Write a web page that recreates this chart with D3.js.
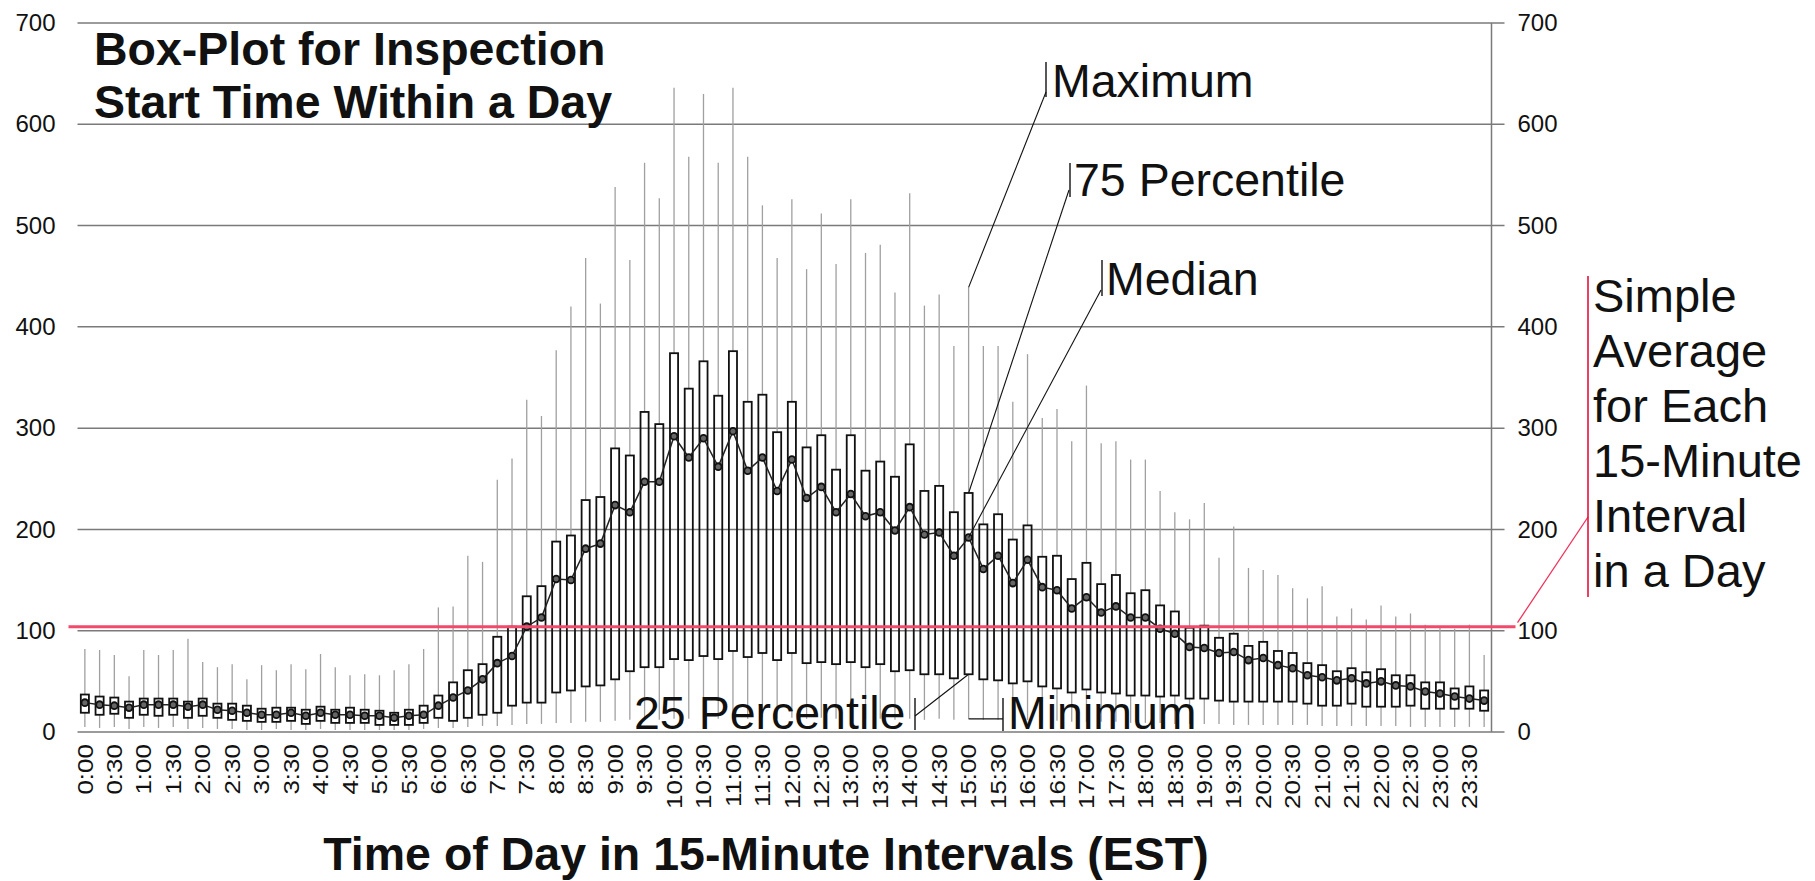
<!DOCTYPE html>
<html><head><meta charset="utf-8">
<script src="https://cdn.jsdelivr.net/npm/d3@7"></script>
<style>
html,body{margin:0;padding:0;background:#fff;}
svg{display:block;}
text{font-family:Arial,"Liberation Sans",sans-serif;fill:#111;}
</style></head><body>
<svg id="chart" width="1815" height="881"></svg>
<script>
const categories = ["0:00","0:15","0:30","0:45","1:00","1:15","1:30","1:45","2:00","2:15","2:30","2:45",
"3:00","3:15","3:30","3:45","4:00","4:15","4:30","4:45","5:00","5:15","5:30","5:45",
"6:00","6:15","6:30","6:45","7:00","7:15","7:30","7:45","8:00","8:15","8:30","8:45",
"9:00","9:15","9:30","9:45","10:00","10:15","10:30","10:45","11:00","11:15","11:30","11:45",
"12:00","12:15","12:30","12:45","13:00","13:15","13:30","13:45","14:00","14:15","14:30","14:45",
"15:00","15:15","15:30","15:45","16:00","16:15","16:30","16:45","17:00","17:15","17:30","17:45",
"18:00","18:15","18:30","18:45","19:00","19:15","19:30","19:45","20:00","20:15","20:30","20:45",
"21:00","21:15","21:30","21:45","22:00","22:15","22:30","22:45","23:00","23:15","23:30","23:45"];

const tickLabels = ["0:00","0:30","1:00","1:30","2:00","2:30","3:00","3:30","4:00","4:30","5:00","5:30",
"6:00","6:30","7:00","7:30","8:00","8:30","9:00","9:30","10:00","10:30","11:00","11:30",
"12:00","12:30","13:00","13:30","14:00","14:30","15:00","15:30","16:00","16:30","17:00","17:30",
"18:00","18:30","19:00","19:30","20:00","20:30","21:00","21:30","22:00","22:30","23:00","23:30"];

const minValues = [5,4,5,3,5,4,5,3,4,3,3,2,2,3,2,2,3,2,2,2,2,2,2,3,
4,4,5,6,6,7,8,8,9,9,10,10,11,12,12,12,13,13,14,13,14,13,14,13,
14,13,14,13,14,13,13,12,13,12,13,12,13,12,12,11,12,11,11,10,10,10,10,9,
9,9,8,8,8,8,7,7,7,7,7,7,6,6,6,6,6,6,5,5,5,5,5,5];
const q1Values = [19,17,18,14,17,16,17,14,16,14,12,11,10,10,11,8,11,9,9,9,7,7,7,9,
14,11,14,17,19,26,29,29,39,41,45,46,52,60,64,64,72,71,75,72,80,74,78,71,
78,68,69,67,69,64,67,60,61,57,57,53,57,52,51,48,50,45,43,39,42,39,38,36,
36,35,36,33,33,31,30,30,30,30,30,28,26,26,28,25,25,25,26,23,23,23,23,21];
const medianValues = [29,27,26,24,27,27,27,25,27,22,21,19,17,17,19,16,19,17,17,16,16,14,16,17,
26,34,41,52,68,75,104,113,151,150,181,186,224,217,247,247,292,271,290,262,297,258,271,238,
269,231,242,217,235,213,217,199,222,195,197,174,192,161,174,147,170,143,140,122,133,118,124,113,
113,102,97,84,83,78,79,71,73,66,63,56,54,51,53,48,50,46,45,40,38,35,33,31];
const q3Values = [37,35,34,30,33,33,33,30,33,28,28,26,23,24,24,22,25,22,24,22,21,19,22,26,
36,49,61,67,94,104,134,144,188,194,229,232,280,273,316,304,374,339,366,332,376,326,333,296,
326,281,293,259,293,258,267,252,284,238,243,217,236,205,215,190,204,173,174,151,167,146,155,137,
140,125,119,103,105,93,97,85,89,80,78,68,66,60,63,59,62,56,56,49,49,43,45,41];
const maxValues = [82,81,76,55,81,76,81,92,69,64,67,52,66,61,67,62,77,64,56,57,56,61,67,82,
123,124,174,168,249,270,328,312,377,420,468,423,538,466,562,527,636,568,630,562,636,568,520,468,
526,457,512,462,526,473,481,434,532,421,432,381,439,381,381,326,373,310,319,287,342,285,287,269,
269,238,217,210,226,172,203,162,160,155,142,132,144,114,122,111,125,114,117,106,104,102,106,76];

const averageValue = 104;
const yTicks = [0,100,200,300,400,500,600,700];
const titleLines = ["Box-Plot for Inspection","Start Time Within a Day"];
const xTitle = "Time of Day in 15-Minute Intervals (EST)";
const avgLabelLines = ["Simple","Average","for Each","15-Minute","Interval","in a Day"];
const annotatedCategory = "15:00";

const svg = d3.select("#chart");
const plotL = 77.5, plotR = 1491.5, plotT = 23, plotB = 732;
const FONT = "Arial,'Liberation Sans',sans-serif";

const x = d3.scaleBand().domain(categories).range([plotL, plotR]).padding(0);
const y = d3.scaleLinear().domain([0, 700]).range([plotB, plotT]);
const bw = x.bandwidth();
const boxW = bw * 0.55;
const cx = c => x(c) + bw / 2;

const data = categories.map((c, i) => ({c, min: minValues[i], q1: q1Values[i], med: medianValues[i], q3: q3Values[i], max: maxValues[i]}));

// gridlines
svg.append("g").selectAll("line").data(yTicks).join("line")
  .attr("x1", plotL).attr("x2", plotR + 13)
  .attr("y1", d => y(d)).attr("y2", d => y(d))
  .attr("stroke", "#7a7a7a").attr("stroke-width", 1.5);
// right axis line
svg.append("line").attr("x1", plotR).attr("x2", plotR).attr("y1", y(700)).attr("y2", y(0))
  .attr("stroke", "#7a7a7a").attr("stroke-width", 1.5);

// left axis labels
const leftAxis = svg.append("g").attr("transform", `translate(${plotL},0)`)
  .call(d3.axisLeft(y).tickValues(yTicks).tickSize(0).tickPadding(22));
leftAxis.select(".domain").remove();
leftAxis.selectAll("text").style("font-size", "24px").style("font-family", FONT).attr("fill", "#222");

const rightAxis = svg.append("g").attr("transform", `translate(${plotR},0)`)
  .call(d3.axisRight(y).tickValues(yTicks).tickSize(0).tickPadding(26));
rightAxis.select(".domain").remove();
rightAxis.selectAll("text").style("font-size", "24px").style("font-family", FONT).attr("fill", "#222");

// x axis labels
const xAxis = svg.append("g").attr("transform", `translate(0,${plotB})`)
  .call(d3.axisBottom(x).tickValues(tickLabels).tickSize(0));
xAxis.select(".domain").remove();
xAxis.selectAll("text")
  .style("font-size", "26px").style("font-family", FONT).attr("fill", "#222")
  .attr("text-anchor", "end").attr("x", -12).attr("y", 0).attr("dy", "0.36em")
  .attr("transform", "rotate(-90) scale(1,0.82)");

// whiskers
const wg = svg.append("g");
wg.selectAll("line.up").data(data).join("line").attr("class", "up")
  .attr("x1", d => cx(d.c)).attr("x2", d => cx(d.c))
  .attr("y1", d => y(d.max)).attr("y2", d => y(d.q3))
  .attr("stroke", "#a0a0a0").attr("stroke-width", 1.3);
wg.selectAll("line.dn").data(data).join("line").attr("class", "dn")
  .attr("x1", d => cx(d.c)).attr("x2", d => cx(d.c))
  .attr("y1", d => y(d.q1)).attr("y2", d => y(d.min))
  .attr("stroke", "#a0a0a0").attr("stroke-width", 1.3);

// boxes
svg.append("g").selectAll("rect").data(data).join("rect")
  .attr("x", d => cx(d.c) - boxW / 2).attr("width", boxW)
  .attr("y", d => y(d.q3)).attr("height", d => y(d.q1) - y(d.q3))
  .attr("fill", "none").attr("stroke", "#111").attr("stroke-width", 1.8);

// median line + markers
svg.append("path").datum(data)
  .attr("d", d3.line().x(d => cx(d.c)).y(d => y(d.med)))
  .attr("fill", "none").attr("stroke", "#222").attr("stroke-width", 1.5);
svg.append("g").selectAll("circle").data(data).join("circle")
  .attr("cx", d => cx(d.c)).attr("cy", d => y(d.med)).attr("r", 3.4)
  .attr("fill", "#666").attr("stroke", "#111").attr("stroke-width", 1.8);

// average line
const ya = y(averageValue);
svg.append("line").attr("x1", plotL - 9).attr("x2", plotR + 24).attr("y1", ya).attr("y2", ya)
  .attr("stroke", "#f24a6a").attr("stroke-width", 3);
svg.append("line").attr("x1", plotR + 26).attr("y1", ya - 4).attr("x2", 1588).attr("y2", 517)
  .attr("stroke", "#f0305a").attr("stroke-width", 1.3);
svg.append("line").attr("x1", 1588).attr("x2", 1588).attr("y1", 276).attr("y2", 597)
  .attr("stroke", "#e8103a").attr("stroke-width", 1.6);
svg.append("g").selectAll("text").data(avgLabelLines).join("text")
  .attr("x", 1593).attr("y", (d, i) => 312 + i * 55)
  .style("font-size", "47px").text(d => d);

// titles
svg.append("g").selectAll("text").data(titleLines).join("text")
  .attr("x", 94).attr("y", (d, i) => 65 + i * 53)
  .style("font-size", "46.5px").style("font-weight", "bold").text(d => d);
svg.append("text").attr("x", 766).attr("y", 870).attr("text-anchor", "middle")
  .style("font-size", "46.5px").style("font-weight", "bold").text(xTitle);

// annotations on annotated category
const a = data.find(d => d.c === annotatedCategory);
const ax = cx(a.c);
const ann = svg.append("g");
function bar(x0, y0, y1) {
  ann.append("line").attr("x1", x0).attr("x2", x0).attr("y1", y0).attr("y2", y1)
    .attr("stroke", "#111").attr("stroke-width", 1.4);
}
function leader(x0, y0, x1, y1) {
  ann.append("line").attr("x1", x0).attr("y1", y0).attr("x2", x1).attr("y2", y1)
    .attr("stroke", "#111").attr("stroke-width", 1.1);
}
function label(x0, y0, t) {
  ann.append("text").attr("x", x0).attr("y", y0).style("font-size", "46.5px").text(t);
}
bar(1046, 62, 97); leader(1046, 92, ax, y(a.max)); label(1052, 97, "Maximum");
bar(1070, 163, 197); leader(1069, 190, ax, y(a.q3)); label(1074, 196, "75 Percentile");
bar(1102, 260, 296); leader(1101, 290, ax, y(a.med)); label(1106, 295, "Median");
label(634, 729, "25 Percentile"); bar(915, 698, 730); leader(915, 716, ax, y(a.q1));
leader(ax, y(a.min), 1003, y(a.min)); bar(1003, 698, 731); label(1008, 729, "Minimum");
</script>
</body></html>
